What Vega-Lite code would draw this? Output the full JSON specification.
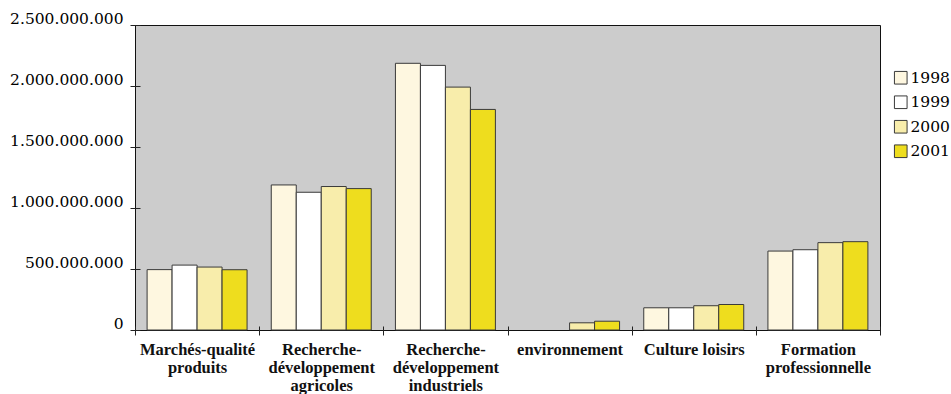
{
  "$schema": "https://vega.github.io/schema/vega-lite/v6.json",
  "width": 745,
  "height": 305,
  "autosize": {"type": "none"},
  "padding": {"left": 135, "top": 25, "right": 71, "bottom": 64},
  "background": "white",
  "data": {
    "values": [
      {"domaine": "Marchés-qualité\nproduits", "annee": "1998", "montant": 495000000},
      {"domaine": "Marchés-qualité\nproduits", "annee": "1999", "montant": 532000000},
      {"domaine": "Marchés-qualité\nproduits", "annee": "2000", "montant": 516000000},
      {"domaine": "Marchés-qualité\nproduits", "annee": "2001", "montant": 494000000},
      {"domaine": "Recherche-\ndéveloppement\nagricoles", "annee": "1998", "montant": 1189000000},
      {"domaine": "Recherche-\ndéveloppement\nagricoles", "annee": "1999", "montant": 1129000000},
      {"domaine": "Recherche-\ndéveloppement\nagricoles", "annee": "2000", "montant": 1176000000},
      {"domaine": "Recherche-\ndéveloppement\nagricoles", "annee": "2001", "montant": 1159000000},
      {"domaine": "Recherche-\ndéveloppement\nindustriels", "annee": "1998", "montant": 2186000000},
      {"domaine": "Recherche-\ndéveloppement\nindustriels", "annee": "1999", "montant": 2169000000},
      {"domaine": "Recherche-\ndéveloppement\nindustriels", "annee": "2000", "montant": 1991000000},
      {"domaine": "Recherche-\ndéveloppement\nindustriels", "annee": "2001", "montant": 1808000000},
      {"domaine": "environnement", "annee": "2000", "montant": 59000000},
      {"domaine": "environnement", "annee": "2001", "montant": 72000000},
      {"domaine": "Culture loisirs", "annee": "1998", "montant": 182000000},
      {"domaine": "Culture loisirs", "annee": "1999", "montant": 182000000},
      {"domaine": "Culture loisirs", "annee": "2000", "montant": 199000000},
      {"domaine": "Culture loisirs", "annee": "2001", "montant": 209000000},
      {"domaine": "Formation\nprofessionnelle", "annee": "1998", "montant": 647000000},
      {"domaine": "Formation\nprofessionnelle", "annee": "1999", "montant": 658000000},
      {"domaine": "Formation\nprofessionnelle", "annee": "2000", "montant": 716000000},
      {"domaine": "Formation\nprofessionnelle", "annee": "2001", "montant": 724000000}
    ]
  },
  "mark": {"type": "bar", "stroke": "#3a3a3a", "strokeWidth": 1},
  "encoding": {
    "x": {
      "field": "domaine",
      "type": "nominal",
      "sort": null,
      "title": null,
      "scale": {"paddingInner": 0, "paddingOuter": 0},
      "axis": {
        "labelAngle": 0,
        "labelExpr": "split(datum.label, '\\n')",
        "labelFont": "Liberation Serif",
        "labelFontSize": 16.5,
        "labelFontWeight": "bold",
        "labelColor": "#111",
        "labelLineHeight": 18,
        "labelLimit": 0,
        "labelPadding": 6,
        "labelBaseline": "top",
        "tickBand": "extent",
        "tickSize": 9,
        "tickColor": "#222",
        "offset": -4,
        "domain": false
      }
    },
    "xOffset": {
      "field": "annee",
      "type": "nominal",
      "scale": {"domain": ["1998", "1999", "2000", "2001"], "paddingInner": 0, "paddingOuter": 0.484}
    },
    "y": {
      "field": "montant",
      "type": "quantitative",
      "title": null,
      "scale": {"domain": [0, 2500000000], "nice": false},
      "axis": {
        "values": [0, 500000000, 1000000000, 1500000000, 2000000000, 2500000000],
        "labelExpr": "replace(format(datum.value, ','), regexp(',', 'g'), '.')",
        "labelFont": "DejaVu Serif",
        "labelFontSize": 15.5,
        "labelColor": "#000",
        "labelBaseline": "alphabetic",
        "labelOffset": -2,
        "labelPadding": 7,
        "tickSize": 10,
        "tickColor": "#222",
        "offset": -5,
        "domain": false,
        "grid": false
      }
    },
    "color": {
      "field": "annee",
      "type": "nominal",
      "title": null,
      "scale": {
        "domain": ["1998", "1999", "2000", "2001"],
        "range": ["#FEF7E0", "#FFFFFF", "#F8EDAB", "#EEDD1E"]
      },
      "legend": {
        "orient": "none",
        "legendX": 758,
        "legendY": 45,
        "symbolType": "square",
        "symbolSize": 160,
        "symbolStrokeColor": "#3a3a3a",
        "symbolStrokeWidth": 1,
        "labelFont": "DejaVu Serif",
        "labelFontSize": 15.5,
        "labelColor": "#000",
        "labelOffset": 2,
        "rowPadding": 6.5,
        "padding": 0
      }
    }
  },
  "config": {
    "view": {"fill": "#CCCCCC", "stroke": "#111", "strokeWidth": 1}
  }
}
